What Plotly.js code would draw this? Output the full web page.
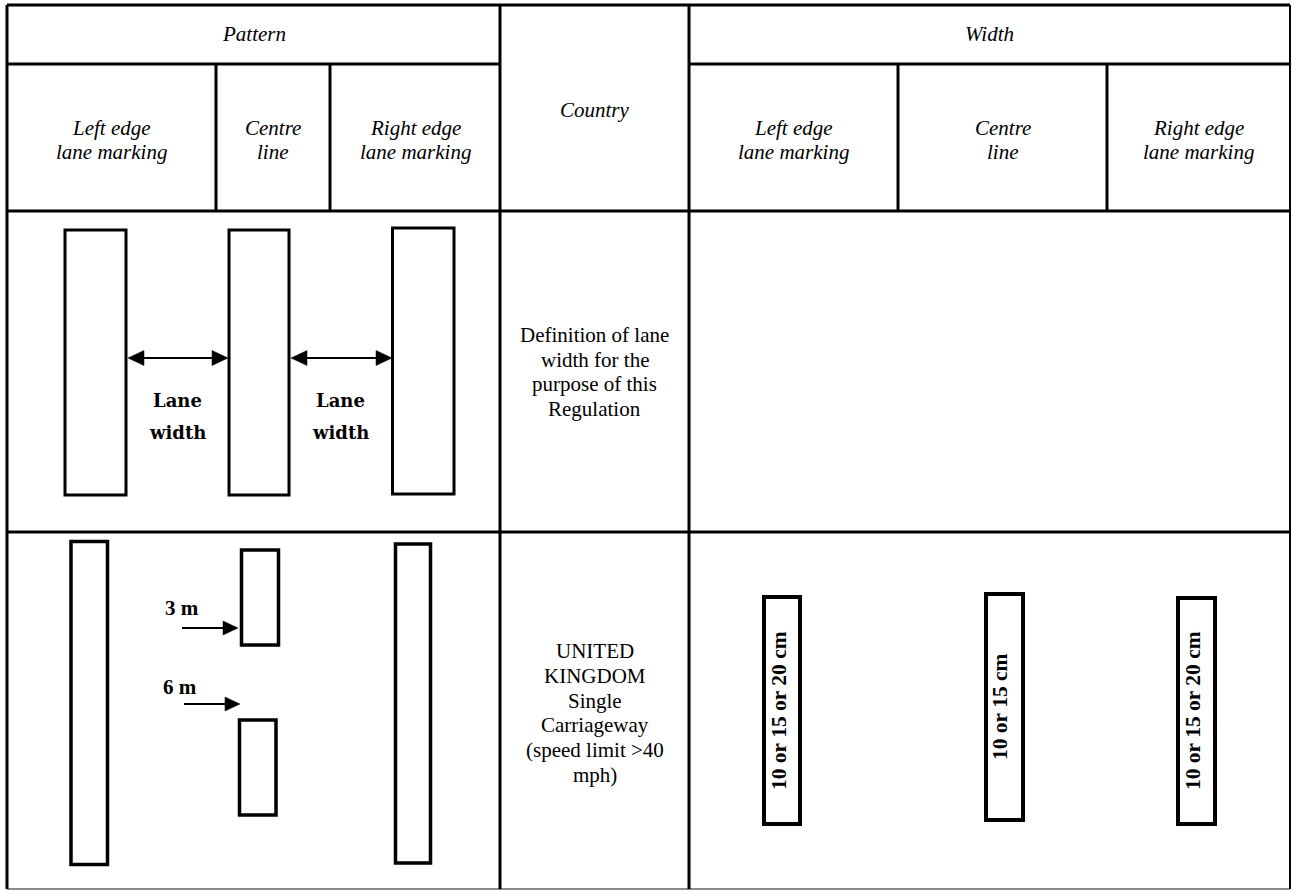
<!DOCTYPE html>
<html>
<head>
<meta charset="utf-8">
<script src="https://cdn.plot.ly/plotly-3.0.1.min.js"></script>
<style>html,body{margin:0;padding:0;background:#fff;}#chart{width:1293px;height:890px;}</style>
</head>
<body>
<div id="chart"></div>
<script>
// ---- content ----
const groupHeaders = ["Pattern", "Width"];
const countryHeader = "Country";
const subHeaders = ["Left edge<br>lane marking", "Centre<br>line", "Right edge<br>lane marking"];
const rowLabels = [
  "Definition of lane<br>width for the<br>purpose of this<br>Regulation",
  "UNITED<br>KINGDOM<br>Single<br>Carriageway<br>(speed limit >40<br>mph)"
];
const laneWidthLabel = ["Lane", "width"];
const gapLabels = ["3 m", "6 m"];
const widthLabels = ["10 or 15 or 20 cm", "10 or 15 cm", "10 or 15 or 20 cm"];

// ---- layout geometry ----
const W = 1293, H = 890;
const X = {L: 7, p1: 216, p2: 330, pR: 500, cR: 689, w1: 898, w2: 1107, R: 1290};
const Y = {T: 5, h1: 64, h2: 211, r2: 532, B: 889};

const shapes = [];
const ann = [];
function line(x0, y0, x1, y1, w, c) {
  shapes.push({type: 'line', xref: 'x', yref: 'y', x0, y0, x1, y1, line: {color: c || '#000', width: w}});
}
function rect(x0, y0, x1, y1, w) {
  shapes.push({type: 'rect', xref: 'x', yref: 'y', x0, y0, x1, y1, line: {color: '#000', width: w}, fillcolor: 'rgba(0,0,0,0)'});
}
function head(tipX, y, dir, len, half) {
  const bx = tipX - dir * len;
  shapes.push({type: 'path', xref: 'x', yref: 'y',
    path: `M ${tipX} ${y} L ${bx} ${y - half} L ${bx} ${y + half} Z`,
    fillcolor: '#000', line: {color: '#000', width: 0.5}});
}
function text(t, x, y, size, opts) {
  opts = opts || {};
  ann.push({text: t, x, y, xref: 'x', yref: 'y', showarrow: false,
    xanchor: 'center', yanchor: 'middle', textangle: opts.angle || 0,
    font: {family: opts.family || 'Liberation Serif, Times New Roman, serif', size, color: '#000',
      weight: opts.bold ? 'bold' : 'normal', style: opts.italic ? 'italic' : 'normal'}});
}
// multi-line text with explicit line spacing; y is the centre of the block
function block(t, x, yc, size, gap, opts) {
  const lines = t.split('<br>');
  const y0 = yc - gap * (lines.length - 1) / 2;
  lines.forEach((s, i) => text(s, x, y0 + i * gap, size, opts));
}

// grid
line(X.L, Y.T, X.R, Y.T, 3);
line(X.L, Y.h1, X.pR, Y.h1, 3);
line(X.cR, Y.h1, X.R, Y.h1, 3);
line(X.L, Y.h2, X.R, Y.h2, 3);
line(X.L, Y.r2, X.R, Y.r2, 3);
line(X.L, Y.B, X.R, Y.B, 1.5, '#666');
line(X.L, Y.T, X.L, Y.B, 3);
line(X.pR, Y.T, X.pR, Y.B, 3);
line(X.cR, Y.T, X.cR, Y.B, 3);
line(X.R, Y.T, X.R, Y.B, 2);
[X.p1, X.p2, X.w1, X.w2].forEach(x => line(x, Y.h1, x, Y.h2, 3));

// headers
const hdrSize = 21;
text(groupHeaders[0], (X.L + X.pR) / 2, 34, hdrSize, {italic: true});
text(groupHeaders[1], (X.cR + X.R) / 2, 34, hdrSize, {italic: true});
text(countryHeader, (X.pR + X.cR) / 2, 110, hdrSize, {italic: true});
const patCols = [111, 273, 415];
const widCols = [(X.cR + X.w1) / 2, (X.w1 + X.w2) / 2, (X.w2 + X.R) / 2];
subHeaders.forEach((s, i) => {
  block(s, patCols[i], 140, hdrSize, 24, {italic: true});
  block(s, widCols[i], 140, hdrSize, 24, {italic: true});
});

// row labels
block(rowLabels[0], (X.pR + X.cR) / 2, 372, 21, 24.5);
block(rowLabels[1], (X.pR + X.cR) / 2, 713, 21, 24.8);

// row 2: lane width definition diagram
rect(65, 230, 126, 495, 3);
rect(229, 230, 289, 495, 3);
rect(392.5, 228, 454, 494, 3);
[[128, 228], [291, 392]].forEach((seg, i) => {
  line(seg[0] + 10, 358, seg[1] - 10, 358, 2);
  head(seg[0], 358, -1, 16, 7.5);
  head(seg[1], 358, 1, 16, 7.5);
  const cx = [177, 340][i];
  text(laneWidthLabel[0], cx, 400, 18, {bold: true, family: 'DejaVu Serif, serif'});
  text(laneWidthLabel[1], cx, 432, 18, {bold: true, family: 'DejaVu Serif, serif'});
});

// row 3: UK pattern
rect(71, 541.5, 107.5, 864.5, 3.5);
rect(241.5, 550, 278.5, 645, 3.5);
rect(239.5, 720, 276, 815, 3.5);
rect(395.5, 544, 430.5, 863, 3.5);
text(gapLabels[0], 182, 608, 21, {bold: true});
line(182, 628, 226, 628, 2);
head(238, 628, 1, 15, 7);
text(gapLabels[1], 180, 687, 21, {bold: true});
line(184, 704, 228, 704, 2);
head(240, 704, 1, 15, 7);

// row 3: widths
rect(764, 597, 800, 824, 4);
rect(986, 594, 1023, 820, 4);
rect(1178, 598, 1215, 824, 4);
text(widthLabels[0], 779, 711, 21.5, {bold: true, angle: -90});
text(widthLabels[1], 1000, 707, 21.5, {bold: true, angle: -90});
text(widthLabels[2], 1193, 711, 21.5, {bold: true, angle: -90});

const layout = {
  width: W, height: H,
  margin: {l: 0, r: 0, t: 0, b: 0, pad: 0},
  paper_bgcolor: '#fff', plot_bgcolor: '#fff',
  xaxis: {range: [0, W], visible: false, fixedrange: true},
  yaxis: {range: [H, 0], visible: false, fixedrange: true},
  showlegend: false,
  shapes: shapes,
  annotations: ann
};
Plotly.newPlot('chart', [], layout, {staticPlot: true, displayModeBar: false});
</script>
</body>
</html>
